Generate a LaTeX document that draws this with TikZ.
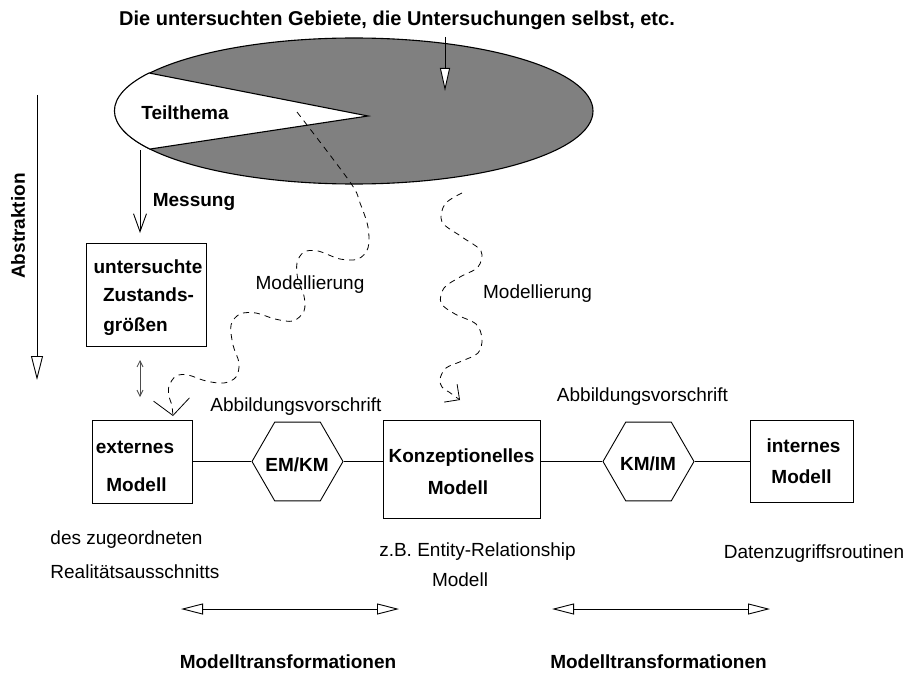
\documentclass[tikz,border=0pt]{standalone}
\usepackage{fontspec}
\setmainfont{Liberation Sans}
\usetikzlibrary{arrows.meta,shapes.geometric}
\begin{document}
\begin{tikzpicture}[x=1pt,y=-1pt,line width=0.9pt,
 t/.style={inner sep=0pt, text height=13.6pt, text depth=0pt, font=\fontsize{19}{23}\selectfont},
 tb/.style={t, font=\fontsize{19}{23}\selectfont\bfseries},
 box/.style={draw, inner sep=0pt},
 hex/.style={draw, regular polygon, regular polygon sides=6, minimum size=91pt, inner sep=0pt},
 wave/.style={dash pattern=on 6pt off 5pt, line width=0.8pt},
 bigtri/.style={-{Triangle[length=23pt,width=10pt,fill=white]}},
]
\useasboundingbox (0,0) rectangle (908,677);

% area ellipse
\node[ellipse, draw, line width=1.1pt, fill=black!50, minimum width=478pt, minimum height=146pt, inner sep=0pt] (area) at (354,111) {};
\filldraw[fill=white, line width=1.1pt] (368,116) -- (149,73) arc[start angle=211.2, end angle=148.4, x radius=239, y radius=73] -- cycle;
\node[tb] (teil) at (185,113) {Teilthema};

% top text and arrow
\node[tb, font=\fontsize{20}{24}\selectfont\bfseries] (top) at (397,19) {Die untersuchten Gebiete, die Untersuchungen selbst, etc.};
\coordinate (topA) at (445,37);
\coordinate (topB) at (445,91);
\draw[bigtri] (topA) -- (topB);

% Abstraktion
\coordinate (absA) at (37,95);
\coordinate (absB) at (37,380);
\draw[-{Triangle[length=24pt,width=12pt,fill=white]}] (absA) -- (absB);
\node[tb, rotate=90] (abs) at (18,226) {Abstraktion};

% Messung
\node[box, minimum width=120pt, minimum height=103pt] (zust) at (146,294.5) {};
\node[tb] (z1) at (148,267) {untersuchte};
\node[tb] (z2) at (148.5,295) {Zustands-};
\node[tb] (z3) at (135.5,325) {größen};
\coordinate (mesA) at (140,150);
\coordinate (mesB) at (140,233);
\draw[-{Straight Barb[length=18pt,width=13pt]}] (mesA) -- (mesB);
\node[tb] (mes) at (194,200) {Messung};

% bottom row
\node[box, minimum width=100pt, minimum height=83pt] (ext) at (142,461.5) {};
\node[tb] (ext1) at (135,447) {externes};
\node[tb] (ext2) at (136.5,485) {Modell};

\node[hex] (em) at (297.5,461.5) {};
\node[tb] (emt) at (297,465) {EM/KM};

\node[box, minimum width=157pt, minimum height=98pt] (konz) at (461.5,469) {};
\node[tb] (k1) at (461.5,456) {Konzeptionelles};
\node[tb] (k2) at (458,488) {Modell};

\node[hex] (ki) at (648.5,461.5) {};
\node[tb] (kit) at (648,464) {KM/IM};

\node[box, minimum width=103pt, minimum height=82pt] (int) at (801.5,461) {};
\node[tb] (i1) at (803.5,446) {internes};
\node[tb] (i2) at (801.5,477) {Modell};

\draw (ext.east |- em.west) -- (em.west);
\draw (em.east) -- (em.east -| konz.west);
\draw (konz.east |- ki.west) -- (ki.west);
\draw (ki.east) -- (ki.east -| int.west);

% double arrow
\coordinate (dA) at (140,360);
\coordinate (dB) at (140,397);
\draw[black!70, line width=0.8pt, {Straight Barb[length=6pt,width=6pt]}-{Straight Barb[length=6pt,width=6pt]}] (dA) -- (dB);

% Modellierung curves
\coordinate (v1) at (173,416);
\draw[wave, -{Straight Barb[length=16pt,width=36pt]}] plot[smooth, tension=0.55] coordinates {
 (297,112) (350,182) (360,203) (368,227) (368,248) (358,259) (340,259) (318,251) (304,252) (297,263)
 (298,280) (304,296) (304,311) (293,321) (275,319) (256,313) (240,314) (231,325) (233,345) (239,363)
 (236,377) (224,383) (206,381) (188,375) (176,376) (169,386) (169,396) (172,405)} -- (v1);
\node[t] (mod1) at (310,283) {Modellierung};

\coordinate (v2) at (460,400);
\draw[wave, -{Straight Barb[length=11pt,width=22pt]}] plot[smooth, tension=0.55] coordinates {
 (462,193) (445,204) (442,222) (462,237) (481,251) (478,267) (460,277) (444,288) (441,303) (455,314)
 (476,324) (482,339) (478,353) (462,361) (446,368) (440,379) (442,387) (449,392)} -- (v2);
\node[t] (mod2) at (537.5,292) {Modellierung};

% labels
\node[t] (abb1) at (296,405) {Abbildungsvorschrift};
\node[t] (abb2) at (642.5,395) {Abbildungsvorschrift};
\node[t, anchor=west] (des1) at (50,538) {des zugeordneten};
\node[t, anchor=west] (des2) at (50,572) {Realitätsausschnitts};
\node[t] (er1) at (477.5,550) {z.B. Entity-Relationship};
\node[t] (er2) at (460,580) {Modell};
\node[t] (dz) at (814,552) {Datenzugriffsroutinen};

% Modelltransformationen
\coordinate (l1) at (181,609);
\coordinate (l2) at (399,609);
\coordinate (r1) at (552,609);
\coordinate (r2) at (770,609);
\draw[{Triangle[length=22pt,width=11pt,fill=white]}-{Triangle[length=22pt,width=11pt,fill=white]}] (l1) -- (l2);
\draw[{Triangle[length=22pt,width=11pt,fill=white]}-{Triangle[length=22pt,width=11pt,fill=white]}] (r1) -- (r2);
\node[tb] (mt1) at (288,662) {Modelltransformationen};
\node[tb] (mt2) at (658.5,662) {Modelltransformationen};
\end{tikzpicture}
\end{document}
